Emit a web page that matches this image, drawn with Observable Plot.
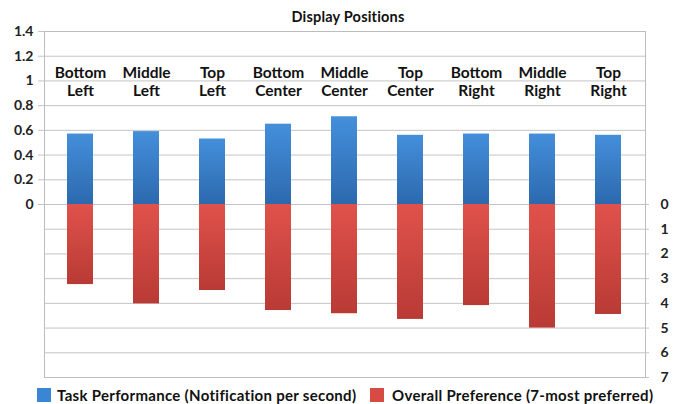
<!DOCTYPE html>
<html>
<head>
<meta charset="utf-8">
<script src="https://cdn.jsdelivr.net/npm/d3@7"></script>
<script src="https://cdn.jsdelivr.net/npm/@observablehq/plot@0.6"></script>
<style>
  body { margin: 0; background: #fff; font-family: Lato, "Open Sans", sans-serif; }
  #wrap { width: 673px; height: 404px; position: relative; overflow: hidden; }
  #title { position: absolute; top: 0; left: 0; width: 673px; height: 24px; box-sizing: border-box; padding-top: 9px;
           padding-left: 23px; line-height: 15px; text-align: center; font-size: 14.5px; font-weight: bold;
           color: #111; letter-spacing: 0.2px; z-index: 2; }
  #chart { height: 386px; }
  #legend { position: relative; height: 18px; font-size: 15px; font-weight: bold; color: #111; letter-spacing: 0.3px; }
  .sw { position: absolute; top: 2px; width: 14px; height: 14px; }
  .lt { position: absolute; top: 0; line-height: 18px; white-space: nowrap; }
</style>
</head>
<body>
<div id="wrap">
  <div id="chart"></div>
  <div id="legend"></div>
  <div id="title"></div>
</div>
<script>
const title = "Display Positions";
const categories = ["Bottom Left", "Middle Left", "Top Left", "Bottom Center", "Middle Center",
                    "Top Center", "Bottom Right", "Middle Right", "Top Right"];
const taskPerformance = [0.57, 0.59, 0.53, 0.65, 0.71, 0.56, 0.57, 0.57, 0.56];
const overallPreference = [3.24, 4.02, 3.48, 4.29, 4.42, 4.65, 4.09, 5.0, 4.45];
const perfTicks = [0, 0.2, 0.4, 0.6, 0.8, 1, 1.2, 1.4];
const prefTicks = [0, 1, 2, 3, 4, 5, 6, 7];
const seriesNames = ["Task Performance (Notification per second)", "Overall Preference (7-most preferred)"];
const seriesColors = ["#3a86d4", "#d84a44"];

// preference axis (0..7, downward) shares the plot with performance axis (0..1.4, upward)
const PREF_SCALE = 1.4 / 7;
const prefToY = v => -v * PREF_SCALE;

const data = categories.map((c, i) => ({
  cat: c, label: c.replace(" ", "\n"), perf: taskPerformance[i], pref: prefToY(overallPreference[i])
}));

document.getElementById("title").textContent = title;

const chart = Plot.plot({
  width: 673,
  height: 386,
  marginTop: 31,
  marginBottom: 9,
  marginLeft: 44,
  marginRight: 28,
  style: { fontFamily: "Lato, 'Open Sans', sans-serif", background: "#fff" },
  x: { domain: categories, paddingInner: 0.6, paddingOuter: 0.3, axis: null },
  y: { domain: [-1.4, 1.4], axis: null },
  marks: [
    Plot.ruleY(perfTicks.concat(prefTicks.map(prefToY)), { stroke: "#c4c4c4", strokeWidth: 1 }),
    Plot.axisY({ anchor: "left", ticks: perfTicks, tickFormat: d => String(d), tickSize: 6, tickPadding: 5,
                 stroke: "#c4c4c4", fill: "#222", fontWeight: "bold", fontSize: 14 }),
    Plot.axisY({ anchor: "right", ticks: prefTicks.map(prefToY), tickFormat: d => String(Math.round(-d / PREF_SCALE)),
                 tickSize: 3, tickPadding: 12, stroke: "#c4c4c4", fill: "#222", fontWeight: "bold", fontSize: 14 }),
    Plot.frame({ stroke: "#bdbdbd" }),
    Plot.barY(data, { x: "cat", y1: 0, y2: "pref", fill: "url(#gradRed)" }),
    Plot.barY(data, { x: "cat", y1: 0, y2: "perf", fill: "url(#gradBlue)" }),
    Plot.text(data, { x: "cat", y: 0.995, text: "label", fontSize: 15.5, fontWeight: "bold", lineHeight: 1.17, fill: "#111" })
  ]
});

// gradient fills for the bars
const svgNS = "http://www.w3.org/2000/svg";
const defs = document.createElementNS(svgNS, "defs");
function grad(id, top, bottom) {
  const g = document.createElementNS(svgNS, "linearGradient");
  g.setAttribute("id", id); g.setAttribute("x1", 0); g.setAttribute("y1", 0); g.setAttribute("x2", 0); g.setAttribute("y2", 1);
  [[0, top], [1, bottom]].forEach(([o, c]) => {
    const s = document.createElementNS(svgNS, "stop");
    s.setAttribute("offset", o); s.setAttribute("stop-color", c); g.appendChild(s);
  });
  defs.appendChild(g);
}
grad("gradBlue", "#448fdb", "#2c69ae");
grad("gradRed", "#e0524b", "#b93a35");
chart.insertBefore(defs, chart.firstChild);
document.getElementById("chart").appendChild(chart);

// legend
const legend = document.getElementById("legend");
const positions = [[37, 57], [370, 392]];
seriesNames.forEach((name, i) => {
  const sw = document.createElement("div");
  sw.className = "sw"; sw.style.left = positions[i][0] + "px"; sw.style.background = seriesColors[i];
  const t = document.createElement("div");
  t.className = "lt"; t.style.left = positions[i][1] + "px"; t.textContent = name;
  legend.appendChild(sw); legend.appendChild(t);
});
</script>
</body>
</html>
